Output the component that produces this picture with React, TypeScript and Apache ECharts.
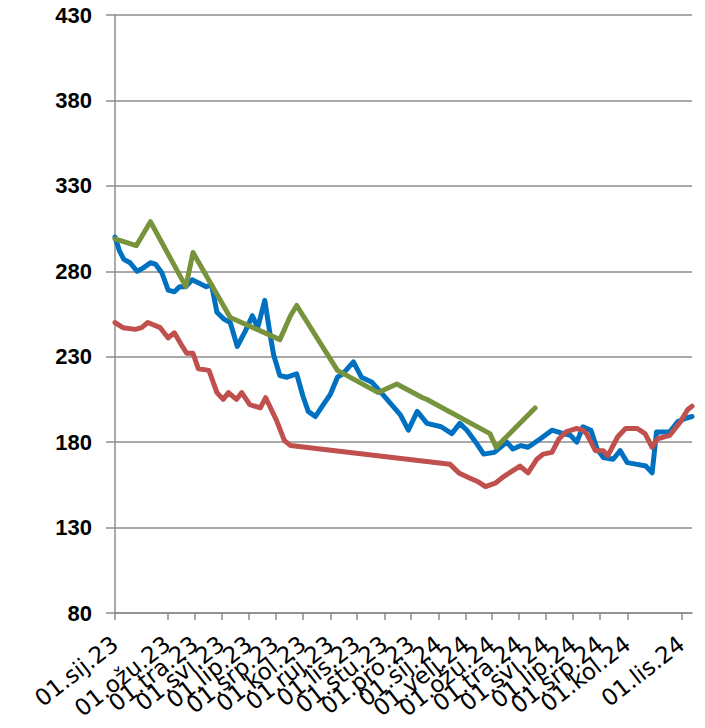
import React, { useEffect, useRef } from "react";
import * as echarts from "echarts";

// Croatian month abbreviations for the axis labels
const MONTHS = ["sij", "velj", "ožu", "tra", "svi", "lip", "srp", "kol", "ruj", "lis", "stu", "pro"];

const START_DATE = "2023-01-01";
const END_DATE = "2024-10-13";

const Y_MIN = 80;
const Y_MAX = 430;
const Y_STEP = 50;

// Blue series
const blueDates = [
  "2023-01-01", "2023-01-06", "2023-01-11", "2023-01-18", "2023-01-26", "2023-02-02", "2023-02-10", "2023-02-16",
  "2023-02-23", "2023-03-02", "2023-03-09", "2023-03-15", "2023-03-22", "2023-03-29", "2023-04-06", "2023-04-14",
  "2023-04-20", "2023-04-26", "2023-05-04", "2023-05-11", "2023-05-19", "2023-05-28", "2023-06-05", "2023-06-11",
  "2023-06-19", "2023-06-25", "2023-06-29", "2023-07-06", "2023-07-14", "2023-07-25", "2023-08-01", "2023-08-07",
  "2023-08-15", "2023-08-24", "2023-09-01", "2023-09-09", "2023-09-15", "2023-09-27", "2023-10-06", "2023-10-18",
  "2023-10-30", "2023-11-19", "2023-11-28", "2023-12-08", "2023-12-19", "2024-01-04", "2024-01-16", "2024-01-25",
  "2024-02-02", "2024-02-12", "2024-02-21", "2024-03-04", "2024-03-18", "2024-03-25", "2024-04-03", "2024-04-11",
  "2024-04-25", "2024-05-08", "2024-05-21", "2024-05-29", "2024-06-05", "2024-06-12", "2024-06-21", "2024-06-28",
  "2024-07-05", "2024-07-16", "2024-07-24", "2024-08-01", "2024-08-12", "2024-08-22", "2024-08-29", "2024-09-03",
  "2024-09-11", "2024-09-18", "2024-09-27", "2024-10-06", "2024-10-13",
];
const blueValues = [
  300, 292, 287, 285, 280, 282, 285, 284,
  279, 269, 268, 271, 271, 275, 273, 271,
  272, 256, 252, 250, 236, 245, 254, 247,
  263, 243, 231, 219, 218, 220, 207, 198,
  195, 202, 208, 218, 220, 227, 218, 215,
  208, 196, 187, 198, 191, 189, 185, 191,
  187, 180, 173, 174, 180, 176, 178, 177,
  182, 187, 185, 184, 180, 189, 187, 176,
  171, 170, 175, 168, 167, 166, 162, 186,
  186, 186, 192, 194, 195,
];

// Red series
const redDates = [
  "2023-01-01", "2023-01-10", "2023-01-24", "2023-01-31", "2023-02-07", "2023-02-21", "2023-03-02", "2023-03-09",
  "2023-03-18", "2023-03-23", "2023-03-30", "2023-04-05", "2023-04-17", "2023-04-26", "2023-05-03", "2023-05-09",
  "2023-05-18", "2023-05-24", "2023-06-02", "2023-06-14", "2023-06-20", "2023-07-02", "2023-07-11", "2023-07-18",
  "2024-01-14", "2024-01-24", "2024-02-05", "2024-02-14", "2024-02-23", "2024-03-05", "2024-03-15", "2024-03-24",
  "2024-04-02", "2024-04-11", "2024-04-21", "2024-04-28", "2024-05-08", "2024-05-16", "2024-05-24", "2024-06-05",
  "2024-06-12", "2024-06-16", "2024-06-26", "2024-07-05", "2024-07-10", "2024-07-21", "2024-07-30", "2024-08-12",
  "2024-08-21", "2024-08-29", "2024-09-04", "2024-09-18", "2024-09-30", "2024-10-08", "2024-10-13",
];
const redValues = [
  250, 247, 246, 247, 250, 247, 241, 244,
  236, 232, 232, 223, 222, 209, 205, 209,
  205, 209, 202, 200, 206, 193, 181, 178,
  167, 162, 159, 157, 154, 156, 160, 163,
  166, 162, 170, 173, 174, 182, 186, 188,
  187, 185, 175, 175, 172, 183, 188, 188,
  185, 177, 182, 184, 192, 199, 201,
];

// Green series
const greenDates = [
  "2023-01-01", "2023-01-25", "2023-02-10", "2023-03-22", "2023-03-30", "2023-05-11", "2023-07-06", "2023-07-18",
  "2023-07-25", "2023-09-09", "2023-10-25", "2023-11-15", "2023-12-14", "2023-12-19", "2024-02-28", "2024-03-06",
  "2024-04-19",
];
const greenValues = [
  299, 295, 309, 271, 291, 253, 240, 254,
  260, 222, 209, 214, 206, 205, 185, 177,
  200,
];

const DAY_MS = 86400000;
const toUTC = (s: string) => Date.UTC(+s.slice(0, 4), +s.slice(5, 7) - 1, +s.slice(8, 10));
const startMs = toUTC(START_DATE);
const dayIndex = (s: string) => Math.round((toUTC(s) - startMs) / DAY_MS);
const nDays = dayIndex(END_DATE) + 1;

const categories: string[] = [];
for (let i = 0; i < nDays; i++) {
  categories.push(new Date(startMs + i * DAY_MS).toISOString().slice(0, 10));
}

const buildSeries = (dates: string[], values: number[]) => {
  const arr: (number | null)[] = new Array(nDays).fill(null);
  dates.forEach((d, k) => {
    arr[dayIndex(d)] = values[k];
  });
  return arr;
};

const isMonthStart = (_i: number, v: string) => v.slice(8, 10) === "01";
const fmtLabel = (v: string) => `${v.slice(8, 10)}.${MONTHS[+v.slice(5, 7) - 1]}.${v.slice(2, 4)}`;

export default function App() {
  const ref = useRef<HTMLDivElement>(null);
  useEffect(() => {
    document.body.style.margin = "0";
    if (!ref.current) return;
    const chart = echarts.init(ref.current, undefined, { renderer: "svg" });
    const lineSeries = (name: string, color: string, data: (number | null)[]) => ({
      name,
      type: "line",
      data,
      connectNulls: true,
      showSymbol: false,
      symbol: "none",
      lineStyle: { color, width: 5, cap: "round", join: "round" },
      itemStyle: { color },
    });
    chart.setOption({
      animation: false,
      grid: { left: 115, top: 15, right: 13, bottom: 115, containLabel: false, outerBoundsMode: "none" },
      xAxis: {
        type: "category",
        data: categories,
        boundaryGap: false,
        axisLine: { lineStyle: { color: "#8c8c8c", width: 1.5 } },
        axisTick: { show: true, interval: isMonthStart, length: 7, lineStyle: { color: "#8c8c8c", width: 1.5 } },
        axisLabel: {
          interval: isMonthStart,
          showMinLabel: true,
          showMaxLabel: true,
          hideOverlap: false,
          formatter: fmtLabel,
          rotate: 38,
          margin: 28,
          color: "#000",
          fontFamily: "DejaVu Sans",
          fontSize: 23,
        },
        splitLine: { show: false },
      },
      yAxis: {
        type: "value",
        min: Y_MIN,
        max: Y_MAX,
        interval: Y_STEP,
        axisLine: { show: true, lineStyle: { color: "#8c8c8c", width: 1.5 } },
        axisTick: { show: true, length: 9, lineStyle: { color: "#8c8c8c", width: 1.5 } },
        axisLabel: {
          margin: 23,
          color: "#000",
          fontFamily: "Liberation Sans",
          fontWeight: "bold",
          fontSize: 22,
        },
        splitLine: { show: true, lineStyle: { color: "#8c8c8c", width: 1.5 } },
      },
      series: [
        lineSeries("blue", "#0070C0", buildSeries(blueDates, blueValues)),
        lineSeries("red", "#C0504D", buildSeries(redDates, redValues)),
        lineSeries("green", "#77933C", buildSeries(greenDates, greenValues)),
      ],
    });
    return () => chart.dispose();
  }, []);
  return <div ref={ref} style={{ width: 705, height: 728 }} />;
}
